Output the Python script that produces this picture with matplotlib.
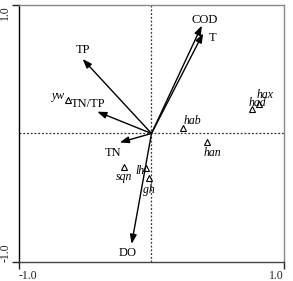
import matplotlib
matplotlib.use("Agg")
import matplotlib.pyplot as plt

plt.rcParams['font.family'] = ['Liberation Serif', 'DejaVu Serif']

# environmental variable arrows (end points)
env_names = ["COD", "T", "TP", "TN/TP", "TN", "DO"]
env_x = [0.38, 0.39, -0.52, -0.41, -0.24, -0.15]
env_y = [0.84, 0.78, 0.58, 0.17, -0.07, -0.86]
# label positions of the arrows
env_lx = [0.40, 0.46, -0.52, -0.48, -0.29, -0.18]
env_ly = [0.88, 0.74, 0.65, 0.23, -0.15, -0.93]

# sample sites
site_names = ["yw", "hab", "had", "hax", "han", "sqn", "lh", "gh"]
site_x = [-0.63, 0.24, 0.76, 0.81, 0.42, -0.21, -0.04, -0.02]
site_y = [0.26, 0.04, 0.19, 0.23, -0.07, -0.26, -0.27, -0.35]
site_lx = [-0.70, 0.31, 0.80, 0.86, 0.46, -0.21, -0.09, -0.02]
site_ly = [0.29, 0.10, 0.24, 0.30, -0.15, -0.34, -0.29, -0.44]

fig = plt.figure(figsize=(2.93, 2.81), dpi=100)
ax = fig.add_axes([0.065, 0.068, 0.904, 0.914])
ax.set_xlim(-1, 1)
ax.set_ylim(-1, 1)

ax.axhline(0, color='#333333', lw=0.9, ls=(0, (1.5, 1.5)))
ax.axvline(0, color='#333333', lw=0.9, ls=(0, (1.5, 1.5)))

for name, x, y, lx, ly in zip(env_names, env_x, env_y, env_lx, env_ly):
    ax.annotate("", xy=(x, y), xytext=(0, 0),
                arrowprops=dict(arrowstyle="-|>,head_length=0.55,head_width=0.2",
                                color='black', lw=1.0, shrinkA=0, shrinkB=0))
    ax.text(lx, ly, name, fontsize=9, ha='center', va='center')

ax.plot(site_x, site_y, ls='none', marker='^', ms=4, mfc='white',
        mec='black', mew=0.8)
for name, lx, ly in zip(site_names, site_lx, site_ly):
    ax.text(lx, ly, name, fontsize=8.5, style='italic', ha='center', va='center')

ax.set_xticks([-1, 1])
ax.set_yticks([-1, 1])
xl = ax.set_xticklabels(["-1.0", "1.0"], fontsize=8.5)
xl[0].set_ha('left')
xl[1].set_ha('right')
yl = ax.set_yticklabels(["-1.0", "1.0"], fontsize=8.5, rotation=90)
yl[0].set_va('bottom')
yl[1].set_va('top')
ax.tick_params(length=5, width=1, direction='out', pad=0.5, colors='#222222')

ax.spines['left'].set_color('black')
ax.spines['bottom'].set_color('#444444')
ax.spines['top'].set_color('#888888')
ax.spines['right'].set_color('#888888')
for s in ax.spines.values():
    s.set_linewidth(1.0)

fig.savefig("out.png", dpi=100)
